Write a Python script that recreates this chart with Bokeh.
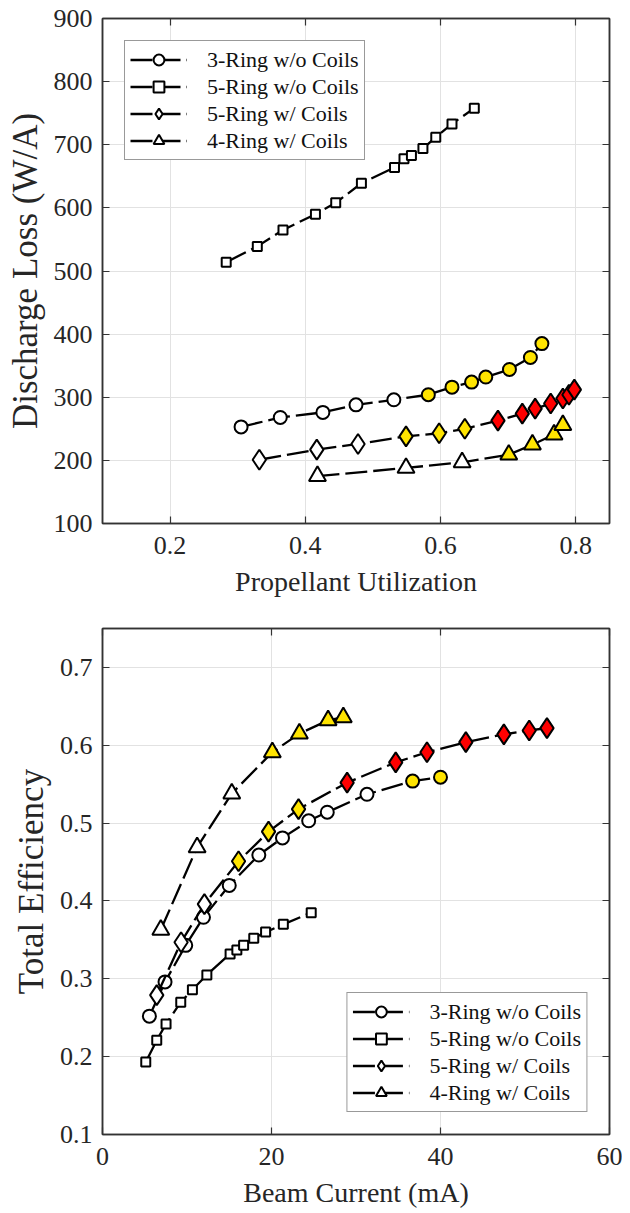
from bokeh.plotting import figure
from bokeh.models import Range1d, FixedTicker, LinearAxis, Legend, LegendItem, ColumnDataSource
from bokeh.layouts import column
from bokeh.embed import file_html
from bokeh.resources import INLINE

FONT = "Liberation Serif"

# ---------------- data: top panel (Propellant Utilization vs Discharge Loss) ----------------
series_names = ["3-Ring w/o Coils", "5-Ring w/o Coils", "5-Ring w/ Coils", "4-Ring w/ Coils"]

util_3ring_nc = [0.305, 0.363, 0.426, 0.475, 0.531, 0.582, 0.617, 0.646, 0.667, 0.702, 0.733, 0.750]
loss_3ring_nc = [253, 268, 276, 288, 296, 304, 316, 324, 332, 344, 363, 385]
top_state_3ring_nc = ["o", "o", "o", "o", "o", "y", "y", "y", "y", "y", "y", "y"]

util_5ring_nc = [0.283, 0.329, 0.367, 0.415, 0.445, 0.483, 0.532, 0.546, 0.557, 0.574, 0.593, 0.617, 0.650]
loss_5ring_nc = [514, 539, 565, 590, 608, 639, 664, 678, 683, 694, 712, 733, 758]
top_state_5ring_nc = ["o", "o", "o", "o", "o", "o", "o", "o", "o", "o", "o", "o", "o"]

util_5ring_c = [0.332, 0.417, 0.478, 0.549, 0.598, 0.636, 0.685, 0.721, 0.740, 0.763, 0.781, 0.790, 0.798]
loss_5ring_c = [201, 217, 226, 238, 243, 250, 263, 274, 282, 290, 298, 304, 312]
top_state_5ring_c = ["o", "o", "o", "y", "y", "y", "r", "r", "r", "r", "r", "r", "r"]

util_4ring_c = [0.418, 0.549, 0.632, 0.701, 0.736, 0.768, 0.781]
loss_4ring_c = [175, 188, 197, 209, 225, 241, 256]
top_state_4ring_c = ["o", "o", "o", "y", "y", "y", "y"]

top_xticks = [0.2, 0.4, 0.6, 0.8]
top_yticks = [100, 200, 300, 400, 500, 600, 700, 800, 900]

# ---------------- data: bottom panel (Beam Current vs Total Efficiency) ----------------
cur_3ring_nc = [5.55, 7.4, 9.85, 11.95, 15.0, 18.5, 21.3, 24.4, 26.6, 31.3, 36.7, 40.0]
eff_3ring_nc = [0.252, 0.296, 0.343, 0.379, 0.420, 0.459, 0.481, 0.503, 0.514, 0.537, 0.554, 0.559]
bot_state_3ring_nc = ["o", "o", "o", "o", "o", "o", "o", "o", "o", "o", "y", "y"]

cur_5ring_nc = [5.12, 6.42, 7.52, 9.26, 10.64, 12.35, 15.1, 15.9, 16.7, 17.9, 19.3, 21.4, 24.7]
eff_5ring_nc = [0.193, 0.221, 0.242, 0.270, 0.286, 0.305, 0.332, 0.337, 0.343, 0.352, 0.360, 0.370, 0.385]
bot_state_5ring_nc = ["o", "o", "o", "o", "o", "o", "o", "o", "o", "o", "o", "o", "o"]

cur_5ring_c = [6.42, 9.30, 12.06, 16.1, 19.65, 23.2, 28.95, 34.7, 38.4, 43.0, 47.5, 50.5, 52.6]
eff_5ring_c = [0.279, 0.347, 0.396, 0.451, 0.489, 0.518, 0.552, 0.578, 0.591, 0.604, 0.614, 0.619, 0.622]
bot_state_5ring_c = ["o", "o", "o", "y", "y", "y", "r", "r", "r", "r", "r", "r", "r"]

cur_4ring_c = [6.9, 11.2, 15.3, 20.1, 23.3, 26.7, 28.5]
eff_4ring_c = [0.363, 0.469, 0.538, 0.591, 0.615, 0.632, 0.636]
bot_state_4ring_c = ["o", "o", "o", "y", "y", "y", "y"]

bot_xticks = [0, 20, 40, 60]
bot_yticks = [0.1, 0.2, 0.3, 0.4, 0.5, 0.6, 0.7]

# ---------------- styling ----------------
STATE_COLORS = {"o": "white", "y": "#FFE400", "r": "#FF0000"}
MARKERS = ["circle", "square", "diamond", "triangle"]
MSIZES = [13, 9, 20, 17]
DASH = "22 6"
AXIS_COLOR = "#333333"
GRID_COLOR = "#E2E2E2"


def style_axis(ax, ticks, labels=True):
    ax.axis_line_color = AXIS_COLOR
    ax.axis_line_width = 1.5
    ax.major_tick_line_color = AXIS_COLOR
    ax.major_tick_line_width = 1.2
    ax.major_tick_in = 7
    ax.major_tick_out = 0
    ax.minor_tick_line_color = None
    ax.major_label_text_font = FONT
    ax.major_label_text_font_style = "normal"
    ax.major_label_text_font_size = "26px" if labels else "8px"
    ax.major_label_text_color = "#262626"
    ax.major_label_standoff = 10 if labels else 0
    ax.major_label_overrides = {t: (f"{t:g}" if labels else "") for t in ticks}
    ax.axis_label_text_font = FONT
    ax.axis_label_text_font_style = "normal"
    ax.axis_label_text_color = "#262626"


def make_panel(xs, ys, states, xr, yr, xticks, yticks, xlabel, ylabel,
               legend_loc, border_top, border_bottom, frame_h):
    p = figure(output_backend="svg", toolbar_location=None,
               frame_width=507, frame_height=frame_h,
               x_range=Range1d(*xr), y_range=Range1d(*yr),
               min_border_left=102, min_border_right=13,
               min_border_top=border_top, min_border_bottom=border_bottom)
    p.background_fill_color = "white"
    p.border_fill_color = "white"
    p.outline_line_color = AXIS_COLOR
    p.outline_line_width = 1.5

    xax = p.xaxis[0]
    yax = p.yaxis[0]
    xax.ticker = FixedTicker(ticks=xticks)
    yax.ticker = FixedTicker(ticks=yticks)
    style_axis(xax, xticks)
    style_axis(yax, yticks)
    xax.major_label_standoff = 13
    xax.axis_label = xlabel
    yax.axis_label = ylabel
    xax.axis_label_text_font_size = "28px"
    yax.axis_label_text_font_size = "35px"
    xax.axis_label_standoff = 9
    yax.axis_label_standoff = 6

    ax_r = LinearAxis(ticker=FixedTicker(ticks=yticks))
    style_axis(ax_r, yticks, labels=False)
    p.add_layout(ax_r, "right")
    ax_t = LinearAxis(ticker=FixedTicker(ticks=xticks))
    style_axis(ax_t, xticks, labels=False)
    p.add_layout(ax_t, "above")

    p.grid.grid_line_color = GRID_COLOR
    p.grid.grid_line_width = 1

    items = []
    for i, name in enumerate(series_names):
        src = ColumnDataSource(dict(x=xs[i], y=ys[i],
                                    fill=[STATE_COLORS[s] for s in states[i]]))
        lr = p.line("x", "y", source=src, line_color="black", line_width=2.3,
                    line_dash=DASH)
        sr = p.scatter("x", "y", source=src, marker=MARKERS[i], size=MSIZES[i],
                       fill_color="fill", line_color="black", line_width=2)
        items.append(LegendItem(label=name, renderers=[lr, sr]))

    leg = Legend(items=items, location=legend_loc)
    leg.label_text_font = FONT
    leg.label_text_font_size = "22px"
    leg.label_text_color = "#111111"
    leg.glyph_width = 57
    leg.glyph_height = 27
    leg.label_height = 27
    leg.spacing = 0
    leg.label_standoff = 20
    leg.padding = 5
    leg.margin = 22
    leg.border_line_color = AXIS_COLOR
    leg.border_line_width = 1.2
    leg.background_fill_color = "white"
    leg.background_fill_alpha = 1.0
    p.add_layout(leg, "center")
    return p


top = make_panel(
    [util_3ring_nc, util_5ring_nc, util_5ring_c, util_4ring_c],
    [loss_3ring_nc, loss_5ring_nc, loss_5ring_c, loss_4ring_c],
    [top_state_3ring_nc, top_state_5ring_nc, top_state_5ring_c, top_state_4ring_c],
    (0.1, 0.85), (100, 900), top_xticks, top_yticks,
    "Propellant Utilization", "Discharge Loss (W/A)",
    "top_left", 18, 85, 505)

bottom = make_panel(
    [cur_3ring_nc, cur_5ring_nc, cur_5ring_c, cur_4ring_c],
    [eff_3ring_nc, eff_5ring_nc, eff_5ring_c, eff_4ring_c],
    [bot_state_3ring_nc, bot_state_5ring_nc, bot_state_5ring_c, bot_state_4ring_c],
    (0, 60), (0.1, 0.75), bot_xticks, bot_yticks,
    "Beam Current (mA)", "Total Efficiency",
    "bottom_right", 20, 71, 506)

layout = column(top, bottom, spacing=0)
open("out.html", "w").write(file_html(layout, INLINE))
